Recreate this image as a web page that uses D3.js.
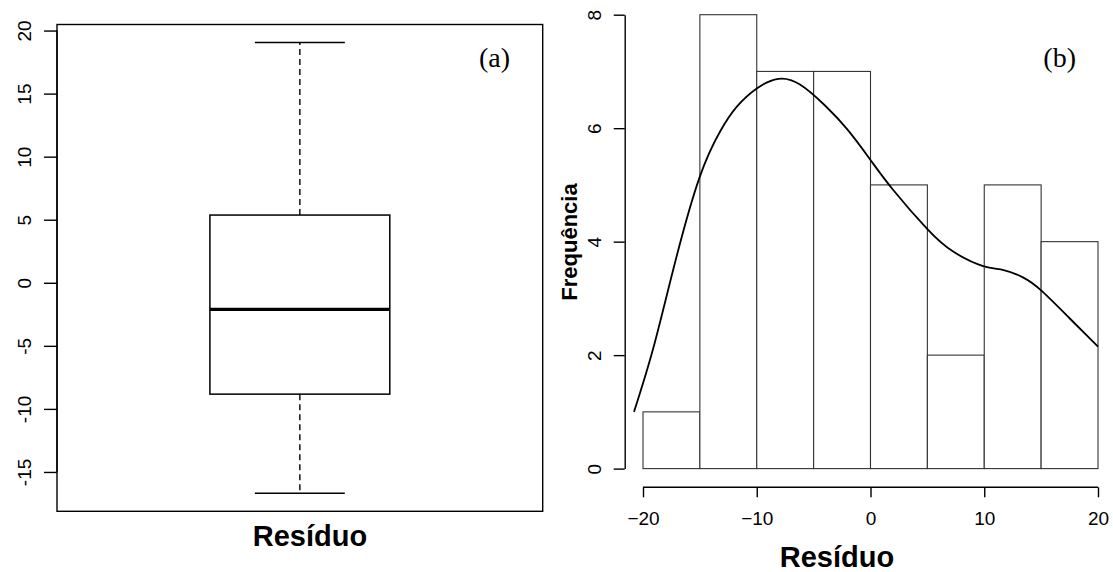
<!DOCTYPE html>
<html><head><meta charset="utf-8">
<script src="https://cdn.jsdelivr.net/npm/d3@7"></script>
<style>
body{margin:0;background:#fff;}
svg{display:block;}
text{font-family:"Liberation Sans",Arial,sans-serif;fill:#000;}
</style></head>
<body>
<svg id="c" width="1113" height="572"></svg>
<script>
// ---- data ----
const boxStats = {low:-16.69, q1:-8.83, median:-2.11, q3:5.37, high:19.05};
const leftTicks = [-15,-10,-5,0,5,10,15,20];
const binEdges = [-20,-15,-10,-5,0,5,10,15,20];
const binCounts = [1,8,7,7,5,2,5,4];
const xTicksR = [-20,-10,0,10,20];
const yTicksR = [0,2,4,6,8];
const densX = [-20.79,-19.1,-17.2,-15.05,-13.2,-11.75,-10.0,-8.1,-6.2,-4.0,-2.0,0.0,2.0,5.0,7.3,9.9,11.7,13.4,15.0,17.5,20.0];
const densY = [1.0,2.12,3.62,5.12,5.95,6.38,6.70,6.87,6.77,6.40,5.97,5.44,4.91,4.22,3.82,3.57,3.50,3.37,3.14,2.65,2.15];

const svg = d3.select("#c");

// ---------- Panel (a): boxplot ----------
const xL = d3.scaleLinear().domain([0.46,1.54]).range([57,542.7]);
const yL = d3.scaleLinear().domain([-18.12,20.48]).range([511.3,24.5]);
const gA = svg.append("g");

// whiskers (dashed)
gA.append("line").attr("x1",xL(1)).attr("x2",xL(1)).attr("y1",yL(boxStats.q3)).attr("y2",yL(boxStats.high))
  .attr("stroke","#000").attr("stroke-width",1.4).attr("stroke-dasharray","6,4");
gA.append("line").attr("x1",xL(1)).attr("x2",xL(1)).attr("y1",yL(boxStats.q1)).attr("y2",yL(boxStats.low))
  .attr("stroke","#000").attr("stroke-width",1.4).attr("stroke-dasharray","6,4");
// caps
[boxStats.high, boxStats.low].forEach(v=>{
  gA.append("line").attr("x1",xL(0.9)).attr("x2",xL(1.1)).attr("y1",yL(v)).attr("y2",yL(v))
    .attr("stroke","#000").attr("stroke-width",1.5);
});
// box
gA.append("rect").attr("x",xL(0.8)).attr("y",yL(boxStats.q3))
  .attr("width",xL(1.2)-xL(0.8)).attr("height",yL(boxStats.q1)-yL(boxStats.q3))
  .attr("fill","#fff").attr("stroke","#000").attr("stroke-width",1.5);
// median
gA.append("line").attr("x1",xL(0.8)).attr("x2",xL(1.2)).attr("y1",yL(boxStats.median)).attr("y2",yL(boxStats.median))
  .attr("stroke","#000").attr("stroke-width",3.2);
// frame
gA.append("rect").attr("x",57).attr("y",24.5).attr("width",542.7-57).attr("height",511.3-24.5)
  .attr("fill","none").attr("stroke","#000").attr("stroke-width",1.4);

// left axis
const axL = d3.axisLeft(yL).tickValues(leftTicks).tickSize(13).tickSizeOuter(0).tickFormat(d3.format("d"));
const gAx = gA.append("g").attr("transform","translate(57,0)").call(axL);
gAx.select(".domain").remove();
gAx.selectAll(".tick line").attr("stroke","#000").attr("stroke-width",1.4);
gAx.selectAll(".tick text").remove();
gAx.selectAll(".tick").append("text")
  .attr("transform","translate(-26,0) rotate(-90)")
  .attr("text-anchor","middle").attr("font-size",19).attr("fill","#000")
  .text(d=>d);
gAx.append("line").attr("x1",0).attr("x2",0).attr("y1",yL(-15)).attr("y2",yL(20)).attr("stroke","#000").attr("stroke-width",1.4);

gA.append("text").attr("x",310).attr("y",546).attr("text-anchor","middle")
  .attr("font-size",29).attr("font-weight","bold").text("Resíduo");
gA.append("text").attr("x",510).attr("y",67).attr("text-anchor","end")
  .style("font-family","'Liberation Serif','Times New Roman',serif").attr("font-size",28).text("(a)");

// ---------- Panel (b): histogram ----------
const xR = d3.scaleLinear().domain([-21.6,21.6]).range([624.8,1116.2]);
const yR = d3.scaleLinear().domain([0,8]).range([468.6,14.7]);
const gB = svg.append("g");

const bins = binCounts.map((c,i)=>({x0:binEdges[i],x1:binEdges[i+1],c}));
gB.selectAll("rect.bar").data(bins).enter().append("rect").attr("class","bar")
  .attr("x",d=>xR(d.x0)).attr("y",d=>yR(d.c))
  .attr("width",d=>xR(d.x1)-xR(d.x0)).attr("height",d=>yR(0)-yR(d.c))
  .attr("fill","#fff").attr("stroke","#333").attr("stroke-width",1.1);

// density curve
const line = d3.line().x(d=>xR(d[0])).y(d=>yR(d[1])).curve(d3.curveNatural);
gB.append("path").datum(densX.map((x,i)=>[x,densY[i]])).attr("d",line)
  .attr("fill","none").attr("stroke","#000").attr("stroke-width",1.8);

// y axis
const axRY = d3.axisLeft(yR).tickValues(yTicksR).tickSize(11).tickSizeOuter(0);
const gRy = gB.append("g").attr("transform","translate(624.7,0)").call(axRY);
gRy.select(".domain").attr("stroke","#000").attr("stroke-width",1.4);
gRy.selectAll(".tick line").attr("stroke","#000").attr("stroke-width",1.4);
gRy.selectAll(".tick text").remove();
gRy.selectAll(".tick").append("text")
  .attr("transform","translate(-24,0) rotate(-90)")
  .attr("text-anchor","middle").attr("font-size",19).attr("fill","#000")
  .text(d=>d);

// x axis
const axRX = d3.axisBottom(xR).tickValues(xTicksR).tickSize(10).tickSizeOuter(0).tickPadding(5);
const gRx = gB.append("g").attr("transform","translate(0,487.3)").call(axRX);
gRx.select(".domain").remove();
gRx.append("line").attr("x1",xR(-20)).attr("x2",xR(20)).attr("y1",0).attr("y2",0).attr("stroke","#000").attr("stroke-width",1.4);
gRx.selectAll(".tick line").attr("stroke","#000").attr("stroke-width",1.4);
gRx.selectAll(".tick text").attr("font-size",19).attr("fill","#000")
  .attr("font-family","'Liberation Sans',Arial,sans-serif").attr("dy",null).attr("y",37.5);

gB.append("text").attr("x",837).attr("y",567).attr("text-anchor","middle")
  .attr("font-size",29).attr("font-weight","bold").text("Resíduo");
gB.append("text").attr("transform","translate(577,242) rotate(-90)").attr("text-anchor","middle")
  .attr("font-size",22).attr("font-weight","bold").text("Frequência");
gB.append("text").attr("x",1076).attr("y",67).attr("text-anchor","end")
  .style("font-family","'Liberation Serif','Times New Roman',serif").attr("font-size",28).text("(b)");
</script>
</body></html>
